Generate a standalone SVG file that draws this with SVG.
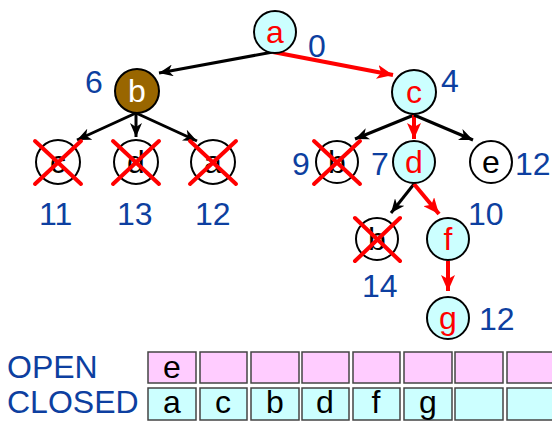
<svg xmlns="http://www.w3.org/2000/svg" width="552" height="423" viewBox="0 0 552 423">
<style>
.node circle{stroke:#000;stroke-width:2}
.open circle{fill:#CCFFFF}
.open text{fill:#FF0000}
.dead circle{fill:#fff}
.dead text{fill:#000}
.lbl{font-family:"Liberation Sans",Arial,sans-serif;font-size:32px;text-anchor:middle}
.num{font-family:"Liberation Sans",Arial,sans-serif;font-size:32px;fill:#0D3FA0}
.x{stroke:#FF0000;stroke-width:4;stroke-linecap:round}
.blk{stroke:#000;stroke-width:3;fill:none}
.red{stroke:#FF0000;stroke-width:4;fill:none}
.cell{stroke:#444;stroke-width:1.5}
.po{fill:#FFCCFF}
.cy{fill:#CCFFFF}
</style>
<defs>
<marker id="ab" markerWidth="16" markerHeight="12" refX="14" refY="6" orient="auto" markerUnits="userSpaceOnUse">
<path d="M0,0 L14,6 L0,12 L4,6 Z" fill="#000"/>
</marker>
<marker id="ar" markerWidth="18" markerHeight="14" refX="16" refY="7" orient="auto" markerUnits="userSpaceOnUse">
<path d="M0,0 L16,7 L0,14 L4,7 Z" fill="#FF0000"/>
</marker>
</defs>
<g id="edges">
<line class="blk" x1="273" y1="52" x2="159" y2="73" marker-end="url(#ab)"/>
<line class="red" x1="273" y1="52" x2="393" y2="75" marker-end="url(#ar)"/>
<line class="blk" x1="136" y1="113" x2="77" y2="140" marker-end="url(#ab)"/>
<line class="blk" x1="136" y1="113" x2="136" y2="137" marker-end="url(#ab)"/>
<line class="blk" x1="136" y1="113" x2="197" y2="141" marker-end="url(#ab)"/>
<line class="blk" x1="414" y1="115" x2="355" y2="139" marker-end="url(#ab)"/>
<line class="red" x1="414" y1="115" x2="414" y2="139" marker-end="url(#ar)"/>
<line class="blk" x1="414" y1="115" x2="473" y2="140" marker-end="url(#ab)"/>
<line class="blk" x1="414" y1="184" x2="391" y2="213" marker-end="url(#ab)"/>
<line class="red" x1="414" y1="184" x2="439" y2="214" marker-end="url(#ar)"/>
<line class="red" x1="448" y1="261" x2="448" y2="291" marker-end="url(#ar)"/>
</g>
<g id="node-a" class="node open"><circle cx="275" cy="32" r="21"/><text class="lbl" x="275" y="43">a</text></g>
<text class="num" x="308" y="57">0</text>
<g id="node-b" class="node"><circle cx="137" cy="91" r="22" fill="#996600"/><text class="lbl" x="137" y="102" fill="#fff">b</text></g>
<text class="num" x="85" y="93">6</text>
<g id="node-c" class="node open"><circle cx="414" cy="92" r="22"/><text class="lbl" x="414" y="103">c</text></g>
<text class="num" x="441" y="92">4</text>
<g id="node-c2" class="node dead"><circle cx="58" cy="162" r="22"/><text class="lbl" x="58" y="173">c</text><line class="x" x1="35" y1="141" x2="81" y2="184"/><line class="x" x1="81" y1="141" x2="35" y2="184"/></g>
<text class="num" x="39" y="225">11</text>
<g id="node-d2" class="node dead"><circle cx="136" cy="162" r="22"/><text class="lbl" x="136" y="173">d</text><line class="x" x1="113" y1="141" x2="159" y2="184"/><line class="x" x1="159" y1="141" x2="113" y2="184"/></g>
<text class="num" x="117" y="225">13</text>
<g id="node-a2" class="node dead"><circle cx="213" cy="162" r="22"/><text class="lbl" x="213" y="173">a</text><line class="x" x1="190" y1="141" x2="236" y2="184"/><line class="x" x1="236" y1="141" x2="190" y2="184"/></g>
<text class="num" x="195" y="225">12</text>
<g id="node-b2" class="node dead"><circle cx="337" cy="162" r="21"/><text class="lbl" x="337" y="173">b</text><line class="x" x1="314" y1="141" x2="360" y2="184"/><line class="x" x1="360" y1="141" x2="314" y2="184"/></g>
<text class="num" x="292" y="175">9</text>
<g id="node-d" class="node open"><circle cx="414" cy="162" r="21"/><text class="lbl" x="414" y="173">d</text></g>
<text class="num" x="371" y="175">7</text>
<g id="node-e" class="node dead"><circle cx="491" cy="162" r="21"/><text class="lbl" x="491" y="173">e</text></g>
<text class="num" x="515" y="175">12</text>
<g id="node-b3" class="node dead"><circle cx="377" cy="239" r="21"/><text class="lbl" x="377" y="250">b</text><line class="x" x1="355" y1="218" x2="400" y2="261"/><line class="x" x1="400" y1="218" x2="355" y2="261"/></g>
<text class="num" x="362" y="297">14</text>
<g id="node-f" class="node open"><circle cx="448" cy="239" r="21"/><text class="lbl" x="448" y="250">f</text></g>
<text class="num" x="468" y="225">10</text>
<g id="node-g" class="node open"><circle cx="448" cy="318" r="21"/><text class="lbl" x="448" y="329">g</text></g>
<text class="num" x="479" y="330">12</text>
<g id="table">
<text class="num" x="7" y="378">OPEN</text>
<text class="num" x="7" y="413">CLOSED</text>
<rect class="cell po" x="148" y="352" width="48" height="31"/>
<rect class="cell po" x="200" y="352" width="47" height="31"/>
<rect class="cell po" x="251" y="352" width="48" height="31"/>
<rect class="cell po" x="302" y="352" width="47" height="31"/>
<rect class="cell po" x="353" y="352" width="47" height="31"/>
<rect class="cell po" x="404" y="352" width="48" height="31"/>
<rect class="cell po" x="455" y="352" width="48" height="31"/>
<rect class="cell po" x="507" y="352" width="50" height="31"/>
<rect class="cell cy" x="148" y="388" width="48" height="32"/>
<rect class="cell cy" x="200" y="388" width="47" height="32"/>
<rect class="cell cy" x="251" y="388" width="48" height="32"/>
<rect class="cell cy" x="302" y="388" width="47" height="32"/>
<rect class="cell cy" x="353" y="388" width="47" height="32"/>
<rect class="cell cy" x="404" y="388" width="48" height="32"/>
<rect class="cell cy" x="455" y="388" width="48" height="32"/>
<rect class="cell cy" x="507" y="388" width="50" height="32"/>
<text class="lbl" x="172" y="378">e</text>
<text class="lbl" x="172" y="413">a</text>
<text class="lbl" x="223" y="413">c</text>
<text class="lbl" x="275" y="413">b</text>
<text class="lbl" x="325" y="413">d</text>
<text class="lbl" x="376" y="413">f</text>
<text class="lbl" x="428" y="413">g</text>
</g>
</svg>
